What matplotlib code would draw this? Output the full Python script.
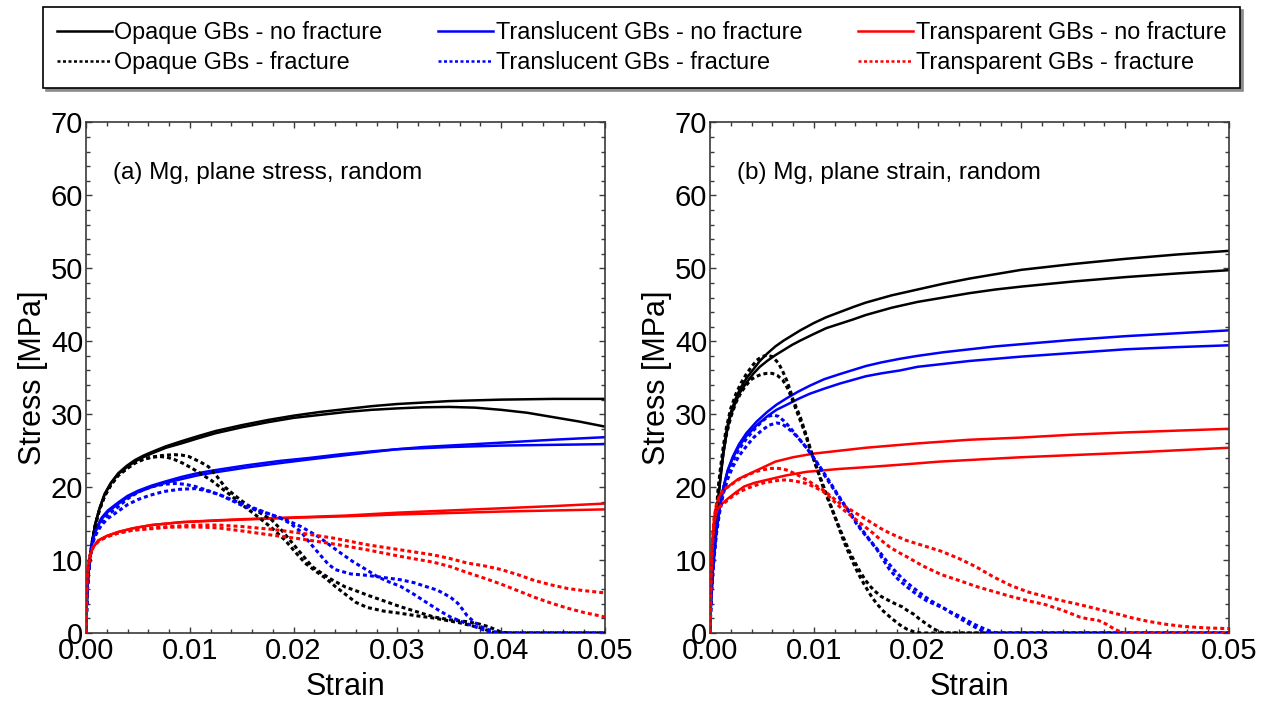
import matplotlib
matplotlib.use("Agg")
import matplotlib.pyplot as plt
from matplotlib.lines import Line2D
from matplotlib.ticker import MultipleLocator, FormatStrFormatter

plt.rcParams['font.family'] = ['Liberation Sans', 'DejaVu Sans']

# Each curve is a list of (strain, stress [MPa]) points.
# ---------------- (a) Mg, plane stress ----------------
a_opq_nf1 = [(0, 0), (0.0001, 5.0), (0.0002, 7.7), (0.0004, 10.6), (0.0006, 12.6), (0.0009, 15.0),
             (0.0013, 17.1), (0.0018, 19.1), (0.0024, 20.6), (0.0031, 21.9), (0.0039, 22.9),
             (0.0047, 23.7), (0.0055, 24.3), (0.0063, 24.8), (0.0077, 25.6), (0.0092, 26.3),
             (0.0108, 27.0), (0.0125, 27.7), (0.015, 28.5), (0.0175, 29.2), (0.02, 29.8),
             (0.0225, 30.3), (0.025, 30.7), (0.0275, 31.1), (0.03, 31.4), (0.0325, 31.6),
             (0.035, 31.8), (0.0375, 31.9), (0.04, 32.0), (0.0425, 32.05), (0.045, 32.1),
             (0.0475, 32.1), (0.05, 32.1)]
a_opq_nf2 = [(0, 0), (0.0001, 5.0), (0.0002, 7.7), (0.0004, 10.6), (0.0006, 12.6), (0.0009, 15.0),
             (0.0013, 17.0), (0.0018, 19.0), (0.0024, 20.5), (0.0031, 21.8), (0.0039, 22.7),
             (0.0047, 23.5), (0.0055, 24.1), (0.0063, 24.6), (0.0077, 25.4), (0.0092, 26.0),
             (0.0108, 26.7), (0.0125, 27.4), (0.015, 28.2), (0.0175, 28.9), (0.02, 29.5),
             (0.0225, 29.9), (0.025, 30.3), (0.0275, 30.6), (0.03, 30.8), (0.0325, 30.95),
             (0.035, 31.0), (0.0375, 30.9), (0.04, 30.6), (0.0425, 30.2), (0.045, 29.6),
             (0.0475, 29.0), (0.05, 28.3)]
a_opq_f1 = [(0, 0), (0.0001, 5.0), (0.0002, 7.7), (0.0004, 10.5), (0.0006, 12.5), (0.0009, 14.8),
            (0.0013, 16.9), (0.0018, 18.8), (0.0024, 20.3), (0.0031, 21.6), (0.0039, 22.5),
            (0.0047, 23.3), (0.0055, 23.8), (0.0063, 24.1), (0.0071, 24.3), (0.0078, 24.4),
            (0.0085, 24.45), (0.0092, 24.4), (0.0099, 24.2), (0.0105, 23.8), (0.0112, 23.3),
            (0.0118, 22.8), (0.0126, 21.5), (0.0134, 20.0), (0.0143, 18.9), (0.0153, 17.8),
            (0.0165, 16.7), (0.0179, 15.5), (0.0189, 14.0), (0.0199, 12.3), (0.0209, 10.6),
            (0.0218, 9.1), (0.0228, 8.1), (0.0237, 7.3), (0.025, 6.3), (0.026, 5.8),
            (0.0271, 5.2), (0.0287, 4.4), (0.0303, 3.6), (0.0319, 2.9), (0.0335, 2.2),
            (0.0351, 1.8), (0.0367, 1.55), (0.0377, 1.3), (0.0387, 0.9), (0.0394, 0.5),
            (0.040, 0.1), (0.041, 0), (0.05, 0)]
a_opq_f2 = [(0, 0), (0.0001, 5.0), (0.0002, 7.7), (0.0004, 10.5), (0.0006, 12.5), (0.0009, 14.8),
            (0.0013, 16.9), (0.0018, 18.8), (0.0024, 20.3), (0.0031, 21.6), (0.0039, 22.5),
            (0.0047, 23.3), (0.0055, 23.8), (0.0063, 24.1), (0.0071, 24.2), (0.0078, 24.1),
            (0.0085, 23.8), (0.0093, 23.3), (0.0102, 22.6), (0.0111, 21.8), (0.0121, 20.9),
            (0.0131, 19.8), (0.0141, 18.7), (0.0153, 17.3), (0.0166, 15.9), (0.0179, 14.4),
            (0.0192, 12.7), (0.0201, 11.2), (0.0211, 9.6), (0.0221, 8.5), (0.0231, 7.5),
            (0.024, 6.4), (0.025, 5.3), (0.026, 4.2), (0.0271, 3.5), (0.0287, 3.0),
            (0.0303, 2.7), (0.0319, 2.35), (0.0335, 2.05), (0.036, 1.4), (0.038, 0.7),
            (0.039, 0.2), (0.0395, 0), (0.05, 0)]

a_trl_nf1 = [(0, 0), (0.0001, 5.0), (0.0002, 7.5), (0.0004, 10.5), (0.00055, 12.0), (0.0008, 13.4),
             (0.0011, 14.5), (0.0015, 15.6), (0.0021, 16.6), (0.0031, 17.7), (0.004, 18.6),
             (0.005, 19.3), (0.0063, 20.0), (0.0077, 20.6), (0.0092, 21.1), (0.0107, 21.6),
             (0.0123, 22.0), (0.0155, 22.7), (0.0187, 23.3), (0.0215, 23.8), (0.0245, 24.3),
             (0.0275, 24.8), (0.03, 25.2), (0.0325, 25.5), (0.035, 25.7), (0.0375, 25.9),
             (0.04, 26.1), (0.045, 26.5), (0.05, 26.85)]
a_trl_nf2 = [(0, 0), (0.0001, 5.0), (0.0002, 7.5), (0.0004, 10.6), (0.00055, 12.2), (0.0008, 13.6),
             (0.0011, 14.7), (0.0015, 15.8), (0.0021, 16.8), (0.0031, 17.9), (0.004, 18.8),
             (0.005, 19.5), (0.0063, 20.2), (0.0077, 20.8), (0.0092, 21.4), (0.0107, 21.9),
             (0.0123, 22.3), (0.0155, 23.0), (0.0187, 23.6), (0.0215, 24.0), (0.0245, 24.5),
             (0.0275, 24.9), (0.03, 25.2), (0.0325, 25.35), (0.035, 25.5), (0.0375, 25.6),
             (0.04, 25.7), (0.045, 25.8), (0.05, 25.9)]
a_trl_f1 = [(0, 0), (0.0001, 5.0), (0.0002, 7.5), (0.0004, 10.4), (0.00055, 11.9), (0.0008, 13.2),
            (0.0011, 14.2), (0.0015, 15.2), (0.0021, 16.2), (0.0031, 17.3), (0.004, 18.4),
            (0.005, 19.3), (0.0058, 19.8), (0.0065, 20.1), (0.0075, 20.4), (0.0086, 20.5),
            (0.0095, 20.4), (0.0105, 20.1), (0.0116, 19.6), (0.0128, 19.0), (0.014, 18.3),
            (0.0153, 17.6), (0.0166, 16.9), (0.0179, 16.2), (0.0188, 15.7), (0.0197, 15.0),
            (0.0207, 13.9), (0.0216, 12.3), (0.0225, 10.8), (0.0233, 9.5), (0.024, 8.7),
            (0.0255, 8.1), (0.0271, 7.9), (0.0287, 7.6), (0.0303, 7.3), (0.0316, 6.9),
            (0.0329, 6.3), (0.0338, 5.9), (0.0345, 5.4), (0.0352, 4.8), (0.0358, 4.1),
            (0.0363, 3.2), (0.0367, 2.4), (0.0374, 1.5), (0.038, 0.9), (0.0387, 0.5),
            (0.0393, 0.2), (0.040, 0), (0.05, 0)]
a_trl_f2 = [(0, 0), (0.0001, 5.0), (0.0002, 7.5), (0.0004, 10.3), (0.00055, 11.8), (0.0008, 13.0),
            (0.0011, 13.9), (0.0015, 14.8), (0.0021, 15.7), (0.0031, 16.7), (0.004, 17.6),
            (0.005, 18.3), (0.0062, 18.9), (0.0075, 19.4), (0.009, 19.7), (0.0105, 19.8),
            (0.0116, 19.5), (0.0128, 19.0), (0.014, 18.2), (0.0153, 17.3), (0.0166, 16.8),
            (0.0179, 16.2), (0.0193, 15.5), (0.0207, 14.6), (0.0224, 13.2), (0.0243, 11.2),
            (0.0257, 9.8), (0.0271, 8.6), (0.0281, 7.7), (0.0292, 7.0), (0.0303, 6.4),
            (0.0316, 5.3), (0.0329, 4.1), (0.034, 3.1), (0.0351, 2.2), (0.0363, 1.5),
            (0.0374, 0.9), (0.0387, 0.2), (0.0395, 0), (0.05, 0)]

a_trp_nf1 = [(0, 0), (0.0001, 7.5), (0.0002, 9.0), (0.0004, 10.7), (0.0007, 11.8), (0.0012, 12.7),
             (0.002, 13.3), (0.0031, 13.85), (0.0045, 14.35), (0.0063, 14.8), (0.0092, 15.2),
             (0.0125, 15.45), (0.015, 15.6), (0.02, 15.85), (0.025, 16.1), (0.03, 16.5),
             (0.035, 16.8), (0.04, 17.1), (0.045, 17.4), (0.05, 17.75)]
a_trp_nf2 = [(0, 0), (0.0001, 7.5), (0.0002, 9.0), (0.0004, 10.7), (0.0007, 11.8), (0.0012, 12.7),
             (0.002, 13.3), (0.0031, 13.85), (0.0045, 14.35), (0.0063, 14.8), (0.0092, 15.2),
             (0.0125, 15.4), (0.015, 15.55), (0.02, 15.8), (0.025, 16.0), (0.03, 16.25),
             (0.035, 16.45), (0.04, 16.65), (0.045, 16.8), (0.05, 16.95)]
a_trp_f1 = [(0, 0), (0.0001, 7.5), (0.0002, 9.0), (0.0004, 10.7), (0.0007, 11.8), (0.0012, 12.6),
            (0.002, 13.2), (0.0031, 13.7), (0.0045, 14.1), (0.0063, 14.4), (0.008, 14.6),
            (0.010, 14.75), (0.0115, 14.8), (0.0128, 14.8), (0.015, 14.6), (0.018, 14.2),
            (0.0207, 13.7), (0.0239, 13.0), (0.0271, 12.1), (0.0303, 11.4), (0.0335, 10.7),
            (0.0351, 10.2), (0.0367, 9.6), (0.0384, 9.2), (0.040, 8.7), (0.0416, 8.0),
            (0.0432, 7.2), (0.0448, 6.6), (0.0464, 6.1), (0.048, 5.8), (0.05, 5.5)]
a_trp_f2 = [(0, 0), (0.0001, 7.5), (0.0002, 9.0), (0.0004, 10.7), (0.0007, 11.8), (0.0012, 12.6),
            (0.002, 13.2), (0.0031, 13.7), (0.0045, 14.1), (0.0063, 14.3), (0.008, 14.5),
            (0.010, 14.55), (0.0115, 14.5), (0.0128, 14.4), (0.015, 14.0), (0.018, 13.4),
            (0.0207, 12.9), (0.0239, 12.2), (0.0271, 11.4), (0.0303, 10.5), (0.0335, 9.7),
            (0.0351, 9.1), (0.0367, 8.3), (0.0384, 7.5), (0.040, 6.7), (0.0416, 5.8),
            (0.0432, 4.9), (0.0448, 4.1), (0.0464, 3.4), (0.048, 2.8), (0.05, 2.2)]

# ---------------- (b) Mg, plane strain ----------------
b_opq_nf1 = [(0, 0), (0.0001, 4.5), (0.0003, 9.5), (0.0005, 13.8), (0.0008, 18.5), (0.001, 21.3),
             (0.0013, 25.0), (0.0016, 27.8), (0.0019, 29.8), (0.0024, 31.9), (0.0029, 33.5),
             (0.0035, 34.9), (0.0042, 36.2), (0.0048, 37.3), (0.0055, 38.3), (0.0063, 39.3),
             (0.0071, 40.1), (0.0079, 40.8), (0.0087, 41.5), (0.010, 42.5), (0.0112, 43.3),
             (0.0125, 44.0), (0.0138, 44.7), (0.015, 45.3), (0.0175, 46.3), (0.02, 47.1),
             (0.0225, 47.9), (0.025, 48.6), (0.0275, 49.2), (0.03, 49.8), (0.035, 50.6),
             (0.04, 51.3), (0.045, 51.9), (0.05, 52.4)]
b_opq_nf2 = [(0, 0), (0.0001, 4.5), (0.0003, 9.5), (0.0005, 13.7), (0.0008, 18.3), (0.001, 21.1),
             (0.0013, 24.7), (0.0016, 27.4), (0.0019, 29.4), (0.0024, 31.4), (0.0029, 33.0),
             (0.0035, 34.3), (0.0042, 35.6), (0.0048, 36.5), (0.0055, 37.3), (0.0063, 38.1),
             (0.0071, 38.8), (0.0079, 39.5), (0.0087, 40.1), (0.010, 41.0), (0.0112, 41.8),
             (0.0125, 42.4), (0.0138, 43.0), (0.015, 43.6), (0.0175, 44.6), (0.02, 45.4),
             (0.0225, 46.0), (0.025, 46.6), (0.0275, 47.1), (0.03, 47.5), (0.035, 48.2),
             (0.04, 48.8), (0.045, 49.3), (0.05, 49.75)]
b_opq_f1 = [(0, 0), (0.0001, 5.0), (0.0002, 8.5), (0.0005, 15.0), (0.0008, 20.0), (0.001, 22.5),
            (0.0013, 25.8), (0.0016, 28.3), (0.002, 30.8), (0.0025, 32.8), (0.003, 34.3),
            (0.0035, 35.5), (0.004, 36.5), (0.0045, 37.4), (0.005, 37.9), (0.0055, 38.1),
            (0.006, 37.9), (0.0066, 37.0), (0.007, 35.9), (0.0074, 34.6), (0.0077, 33.4),
            (0.008, 32.0), (0.0087, 29.6), (0.0093, 27.0), (0.0099, 24.2), (0.0104, 22.1),
            (0.0109, 20.0), (0.0114, 18.2), (0.0119, 16.4), (0.0124, 14.5), (0.0128, 12.9),
            (0.0133, 11.2), (0.0138, 9.6), (0.0143, 8.1), (0.0148, 6.8), (0.0153, 5.6),
            (0.0157, 4.7), (0.0162, 3.8), (0.0167, 3.0), (0.0175, 2.0), (0.0183, 1.1),
            (0.019, 0.5), (0.0196, 0.2), (0.0203, 0), (0.05, 0)]
b_opq_f2 = [(0, 0), (0.0001, 5.0), (0.0002, 8.5), (0.0005, 14.7), (0.0008, 19.5), (0.001, 22.0),
            (0.0013, 25.0), (0.0016, 27.3), (0.002, 29.6), (0.0025, 31.6), (0.003, 33.0),
            (0.0035, 34.0), (0.004, 34.8), (0.0045, 35.2), (0.005, 35.5), (0.0055, 35.6),
            (0.006, 35.6), (0.0065, 35.3), (0.007, 34.7), (0.0075, 33.5), (0.0079, 32.1),
            (0.0082, 31.0), (0.0086, 29.5), (0.009, 28.0), (0.0094, 26.3), (0.0097, 25.0),
            (0.0101, 23.4), (0.0105, 21.8), (0.011, 19.9), (0.0115, 18.0), (0.012, 16.1),
            (0.0125, 14.3), (0.013, 12.6), (0.0135, 11.0), (0.014, 9.6), (0.0145, 8.3),
            (0.015, 7.2), (0.0155, 6.3), (0.016, 5.6), (0.0165, 5.0), (0.0173, 4.4),
            (0.018, 3.9), (0.0185, 3.6), (0.019, 3.1), (0.0196, 2.6), (0.0202, 1.9),
            (0.0207, 1.4), (0.0211, 1.0), (0.0215, 0.6), (0.022, 0.25), (0.0225, 0), (0.05, 0)]

b_trl_nf1 = [(0, 0), (0.0001, 4.5), (0.0003, 9.0), (0.0006, 13.7), (0.0009, 16.8), (0.0013, 20.0),
             (0.0017, 22.3), (0.0022, 24.2), (0.0028, 25.9), (0.0035, 27.4), (0.0045, 29.0),
             (0.0055, 30.3), (0.0064, 31.3), (0.0074, 32.2), (0.0085, 33.1), (0.0096, 33.9),
             (0.011, 34.8), (0.0125, 35.5), (0.015, 36.6), (0.0165, 37.1), (0.0183, 37.6),
             (0.02, 38.0), (0.0225, 38.5), (0.025, 38.9), (0.0275, 39.3), (0.03, 39.6),
             (0.035, 40.2), (0.04, 40.7), (0.045, 41.1), (0.05, 41.5)]
b_trl_nf2 = [(0, 0), (0.0001, 4.5), (0.0003, 9.0), (0.0006, 13.7), (0.0009, 16.8), (0.0013, 20.0),
             (0.0017, 22.2), (0.0022, 24.0), (0.0028, 25.6), (0.0035, 27.0), (0.0045, 28.5),
             (0.0055, 29.7), (0.0064, 30.6), (0.0074, 31.3), (0.0085, 32.1), (0.0096, 32.8),
             (0.011, 33.5), (0.0125, 34.2), (0.015, 35.2), (0.0165, 35.6), (0.0183, 36.0),
             (0.02, 36.5), (0.0225, 36.9), (0.025, 37.3), (0.0275, 37.6), (0.03, 37.9),
             (0.035, 38.4), (0.04, 38.9), (0.045, 39.2), (0.05, 39.45)]
b_trl_f1 = [(0, 0), (0.0001, 4.5), (0.0003, 9.0), (0.0006, 13.7), (0.0009, 16.8), (0.0013, 19.8),
            (0.0017, 21.8), (0.0022, 23.6), (0.0028, 25.2), (0.0035, 26.6), (0.0042, 27.8),
            (0.005, 29.0), (0.0056, 29.7), (0.0061, 29.9), (0.0066, 29.7), (0.0071, 29.1),
            (0.0077, 28.2), (0.0082, 27.3), (0.0087, 26.4), (0.0093, 25.4), (0.0099, 24.2),
            (0.0104, 23.1), (0.0109, 21.9), (0.0115, 20.6), (0.0122, 19.1), (0.0128, 17.8),
            (0.0135, 16.4), (0.0141, 15.0), (0.0148, 13.7), (0.0155, 12.5), (0.0161, 11.4),
            (0.0167, 10.0), (0.0173, 8.7), (0.0181, 7.4), (0.019, 6.3), (0.02, 5.2),
            (0.0209, 4.4), (0.0217, 3.9), (0.0225, 3.4), (0.0234, 2.6), (0.0243, 1.8),
            (0.025, 1.2), (0.0258, 0.6), (0.0263, 0.25), (0.0268, 0), (0.05, 0)]
b_trl_f2 = [(0, 0), (0.0001, 4.5), (0.0003, 8.8), (0.0006, 13.4), (0.0009, 16.3), (0.0013, 19.2),
            (0.0017, 21.1), (0.0022, 22.8), (0.0028, 24.3), (0.0035, 25.6), (0.0042, 26.8),
            (0.005, 27.8), (0.0057, 28.5), (0.0064, 28.8), (0.0069, 28.7), (0.0074, 28.2),
            (0.0079, 27.6), (0.0084, 26.9), (0.0089, 26.1), (0.0094, 25.2), (0.01, 24.0),
            (0.0105, 23.0), (0.011, 21.9), (0.0116, 20.6), (0.0123, 19.0), (0.013, 17.5),
            (0.0137, 16.1), (0.0143, 14.8), (0.015, 13.5), (0.0157, 12.2), (0.0164, 11.0),
            (0.017, 9.9), (0.0177, 8.7), (0.0185, 7.5), (0.0194, 6.4), (0.0204, 5.3),
            (0.0213, 4.4), (0.0222, 3.7), (0.023, 3.0), (0.0239, 2.4), (0.0248, 1.7),
            (0.0256, 1.1), (0.0264, 0.6), (0.027, 0.25), (0.0276, 0), (0.05, 0)]

b_trp_nf1 = [(0, 0), (0.0001, 8.0), (0.0002, 11.5), (0.0003, 14.0), (0.0004, 15.8), (0.0006, 17.5),
             (0.0008, 18.4), (0.001, 19.0), (0.0015, 19.8), (0.0027, 21.1), (0.0063, 23.5),
             (0.008, 24.1), (0.01, 24.6), (0.0125, 25.0), (0.015, 25.4), (0.0175, 25.7),
             (0.02, 26.0), (0.025, 26.5), (0.03, 26.8), (0.035, 27.2), (0.04, 27.5),
             (0.045, 27.75), (0.05, 28.0)]
b_trp_nf2 = [(0, 0), (0.0001, 8.0), (0.0002, 11.2), (0.0003, 13.5), (0.0004, 15.0), (0.0006, 16.5),
             (0.0008, 17.1), (0.001, 17.5), (0.0017, 18.4), (0.0025, 19.3), (0.0033, 20.1),
             (0.0043, 20.6), (0.0055, 21.0), (0.0073, 21.6), (0.0093, 22.1), (0.0125, 22.5),
             (0.0157, 22.8), (0.019, 23.15), (0.0221, 23.5), (0.026, 23.8), (0.03, 24.1),
             (0.035, 24.4), (0.04, 24.7), (0.045, 25.05), (0.05, 25.4)]
b_trp_f1 = [(0, 0), (0.0001, 8.0), (0.0002, 11.5), (0.0003, 14.0), (0.0004, 15.8), (0.0006, 17.5),
            (0.0008, 18.4), (0.001, 19.0), (0.0015, 19.8), (0.0027, 21.0), (0.0034, 21.5),
            (0.004, 21.9), (0.0046, 22.2), (0.0052, 22.4), (0.0058, 22.55), (0.0064, 22.6),
            (0.007, 22.5), (0.0075, 22.3), (0.0084, 21.7), (0.0093, 21.0), (0.0101, 20.3),
            (0.0109, 19.6), (0.0117, 18.7), (0.0125, 17.8), (0.0133, 17.1), (0.0141, 16.4),
            (0.0149, 15.7), (0.0157, 15.0), (0.0165, 14.3), (0.0173, 13.7), (0.0181, 13.2),
            (0.0189, 12.7), (0.0205, 12.0), (0.0223, 11.2), (0.024, 10.2), (0.0256, 9.1),
            (0.0273, 7.7), (0.029, 6.5), (0.0307, 5.6), (0.0323, 5.0), (0.034, 4.4),
            (0.0356, 3.9), (0.0373, 3.3), (0.039, 2.7), (0.0406, 2.1), (0.0422, 1.6),
            (0.0439, 1.2), (0.0456, 0.9), (0.0478, 0.7), (0.05, 0.6)]
b_trp_f2 = [(0, 0), (0.0001, 8.0), (0.0002, 11.2), (0.0003, 13.5), (0.0004, 15.0), (0.0006, 16.5),
            (0.0008, 17.0), (0.001, 17.4), (0.0017, 18.2), (0.0023, 18.9), (0.0029, 19.4),
            (0.0037, 19.9), (0.0045, 20.3), (0.0052, 20.6), (0.006, 20.8), (0.0067, 20.95),
            (0.0074, 21.0), (0.0083, 20.8), (0.0093, 20.5), (0.0101, 20.0), (0.0109, 19.4),
            (0.0117, 18.4), (0.0125, 17.3), (0.0133, 16.4), (0.0141, 15.5), (0.0149, 14.6),
            (0.0157, 13.7), (0.0165, 12.7), (0.0173, 11.8), (0.0181, 11.1), (0.0189, 10.5),
            (0.0205, 9.2), (0.0223, 8.0), (0.024, 7.2), (0.0256, 6.4), (0.0273, 5.7),
            (0.029, 5.0), (0.0307, 4.4), (0.0323, 3.9), (0.034, 3.1), (0.0356, 2.2),
            (0.0365, 1.9), (0.0373, 1.8), (0.0382, 1.2), (0.039, 0.5), (0.0395, 0.2),
            (0.040, 0), (0.05, 0)]

legend_labels = ["Opaque GBs - no fracture", "Opaque GBs - fracture",
                 "Translucent GBs - no fracture", "Translucent GBs - fracture",
                 "Transparent GBs - no fracture", "Transparent GBs - fracture"]
panel_titles = ["(a) Mg, plane stress, random", "(b) Mg, plane strain, random"]

BLACK, BLUE, RED = "#000000", "#0000ff", "#ff0000"
SOLID_LW = 1.8
DOT_LW = 2.2
DOT_DASH = (0, (1.3, 1.0))

panel_a = [
    (a_opq_nf1, BLACK, False), (a_opq_nf2, BLACK, False),
    (a_opq_f1, BLACK, True), (a_opq_f2, BLACK, True),
    (a_trl_nf1, BLUE, False), (a_trl_nf2, BLUE, False),
    (a_trl_f1, BLUE, True), (a_trl_f2, BLUE, True),
    (a_trp_nf1, RED, False), (a_trp_nf2, RED, False),
    (a_trp_f1, RED, True), (a_trp_f2, RED, True),
]
panel_b = [
    (b_opq_nf1, BLACK, False), (b_opq_nf2, BLACK, False),
    (b_opq_f1, BLACK, True), (b_opq_f2, BLACK, True),
    (b_trl_nf1, BLUE, False), (b_trl_nf2, BLUE, False),
    (b_trl_f1, BLUE, True), (b_trl_f2, BLUE, True),
    (b_trp_nf1, RED, False), (b_trp_nf2, RED, False),
    (b_trp_f1, RED, True), (b_trp_f2, RED, True),
]

fig = plt.figure(figsize=(12.66, 7.01), dpi=100)
ax_a = fig.add_axes([86 / 1266, 68 / 701, 519 / 1266, 510.5 / 701])
ax_b = fig.add_axes([710 / 1266, 68 / 701, 519 / 1266, 510.5 / 701])

SPINE = "#3a3a3a"
for ax, curves, title in [(ax_a, panel_a, panel_titles[0]), (ax_b, panel_b, panel_titles[1])]:
    for pts, c, dotted in curves:
        x, y = zip(*pts)
        if dotted:
            ax.plot(x, y, color=c, lw=DOT_LW, linestyle=DOT_DASH, zorder=3)
        else:
            ax.plot(x, y, color=c, lw=SOLID_LW, zorder=2, solid_joinstyle="round")
    ax.set_xlim(0, 0.05)
    ax.set_ylim(0, 70)
    ax.xaxis.set_major_locator(MultipleLocator(0.01))
    ax.xaxis.set_minor_locator(MultipleLocator(0.002))
    ax.yaxis.set_major_locator(MultipleLocator(10))
    ax.yaxis.set_minor_locator(MultipleLocator(2))
    ax.xaxis.set_major_formatter(FormatStrFormatter("%.2f"))
    ax.tick_params(which="both", direction="in", top=True, right=True, color=SPINE, width=1.0)
    ax.tick_params(which="major", length=4.5, labelsize=21)
    ax.tick_params(which="minor", length=2.8)
    ax.tick_params(axis="x", which="major", pad=3)
    ax.tick_params(axis="y", which="major", pad=2)
    for s in ax.spines.values():
        s.set_color(SPINE)
        s.set_linewidth(1.2)
    ax.set_xlabel("Strain", fontsize=22, labelpad=5)
    ax.set_ylabel("Stress [MPa]", fontsize=22, labelpad=2)
    ax.text(0.052, 0.902, title, transform=ax.transAxes, fontsize=17.5, va="center", ha="left")

legend_dash = (0, (1.2, 1.0))
handles = [
    Line2D([], [], color=BLACK, lw=SOLID_LW), Line2D([], [], color=BLACK, lw=1.8, linestyle=legend_dash),
    Line2D([], [], color=BLUE, lw=SOLID_LW), Line2D([], [], color=BLUE, lw=1.8, linestyle=legend_dash),
    Line2D([], [], color=RED, lw=SOLID_LW), Line2D([], [], color=RED, lw=1.8, linestyle=legend_dash),
]
leg = fig.legend(handles, legend_labels, ncol=3, mode="expand", loc="upper left",
                 bbox_to_anchor=(43 / 1266, 1 - 7 / 701, 1197 / 1266, 0.0),
                 bbox_transform=fig.transFigure, fontsize=16.8, frameon=True, fancybox=False,
                 shadow={"color": "0.55", "alpha": 1.0}, handlelength=2.36, handletextpad=0.1,
                 labelspacing=0.3, borderpad=0.6, borderaxespad=0.0)
leg.get_frame().set_edgecolor("black")
leg.get_frame().set_linewidth(1.2)

fig.savefig("out.png", dpi=100)
